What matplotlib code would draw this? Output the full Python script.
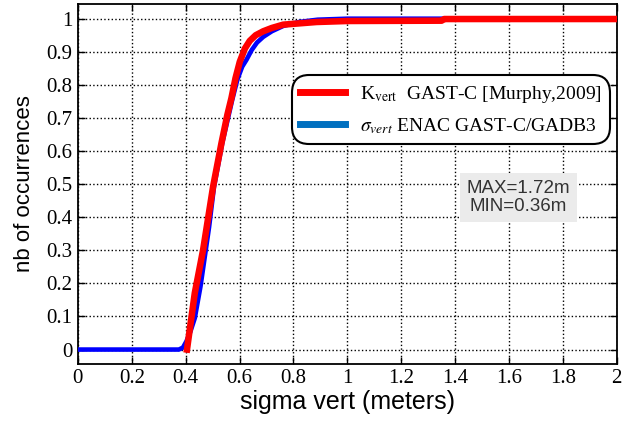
import matplotlib
matplotlib.use('Agg')
import matplotlib.pyplot as plt
from matplotlib.lines import Line2D
from matplotlib.ticker import FormatStrFormatter, MultipleLocator

# ENAC GAST-C/GADB3 sigma vert
sig_x = [0, 0.375, 0.39, 0.403, 0.418, 0.434, 0.455, 0.487, 0.505, 0.536, 0.573,
         0.592, 0.61, 0.626, 0.645, 0.665, 0.688, 0.72, 0.762, 0.82, 0.89, 1.0,
         1.4, 2.0]
sig_y = [0, 0, 0.006, 0.025, 0.055, 0.095, 0.19, 0.37, 0.49, 0.624, 0.755,
         0.816, 0.855, 0.876, 0.905, 0.928, 0.945, 0.962, 0.978, 0.99, 0.997, 1.0,
         1.0, 1.0]

# K vert GAST-C [Murphy,2009]
k_x = [0.405, 0.434, 0.465, 0.502, 0.533, 0.555, 0.57, 0.585, 0.601, 0.62,
       0.638, 0.66, 0.688, 0.72, 0.762, 0.886, 1.0, 1.35, 1.36, 2.0]
k_y = [0, 0.171, 0.302, 0.493, 0.624, 0.71, 0.76, 0.82, 0.87, 0.91,
       0.933, 0.95, 0.962, 0.972, 0.982, 0.99, 0.993, 0.994, 0.999, 0.999]

plt.rcParams['mathtext.fontset'] = 'stix'

fig = plt.figure(figsize=(6.28, 4.23), dpi=100)
ax = fig.add_axes([0.124, 0.14, 0.858, 0.851])

ax.plot(sig_x, sig_y, color='#0000ff', linewidth=3.3, zorder=3,
        solid_joinstyle='round')
ax.plot(k_x, k_y, color='#ff0000', linewidth=4.7, zorder=4,
        solid_joinstyle='round')

ax.set_xlim(0, 2)
ax.set_ylim(-0.043, 1.045)
ax.xaxis.set_major_locator(MultipleLocator(0.2))
ax.yaxis.set_major_locator(MultipleLocator(0.1))
ax.xaxis.set_major_formatter(FormatStrFormatter('%g'))
ax.yaxis.set_major_formatter(FormatStrFormatter('%g'))
ax.tick_params(direction='in', top=True, right=True, length=5, width=1, pad=4)
for lab in ax.get_xticklabels() + ax.get_yticklabels():
    lab.set_fontfamily('Liberation Serif')
    lab.set_fontsize(15)

ax.grid(True, color='black', linestyle=':', linewidth=1.0)
for sp in ax.spines.values():
    sp.set_linewidth(1.3)

ax.set_xlabel('sigma vert (meters)', fontfamily='Liberation Sans', fontsize=18, labelpad=1)
ax.set_ylabel('nb of occurrences', fontfamily='Liberation Sans', fontsize=16, labelpad=8)

handles = [Line2D([], [], color='#ff0000', linewidth=5),
           Line2D([], [], color='#0070c0', linewidth=5)]
labels = [r'K$_{\mathrm{vert}}$  GAST-C [Murphy,2009]',
          r'$\sigma_{vert}$ ENAC GAST-C/GADB3']
leg = ax.legend(handles, labels, loc='upper right', bbox_to_anchor=(1.006, 0.828),
                prop={'family': 'Liberation Serif', 'size': 14}, fancybox=True,
                framealpha=1, edgecolor='black', handlelength=2.3, borderpad=0.45,
                labelspacing=0.55, handletextpad=0.75)
leg.get_frame().set_linewidth(1.5)
leg.get_frame().set_boxstyle('round,pad=0,rounding_size=0.9')

ax.text(1.635, 0.46, 'MAX=1.72m\nMIN=0.36m', ha='center', va='center',
        fontfamily='Liberation Sans', fontsize=13.5, color='#333333',
        linespacing=1.1,
        bbox=dict(facecolor='#ebebeb', edgecolor='none', pad=5), zorder=5)

fig.savefig('out.png', dpi=100)
